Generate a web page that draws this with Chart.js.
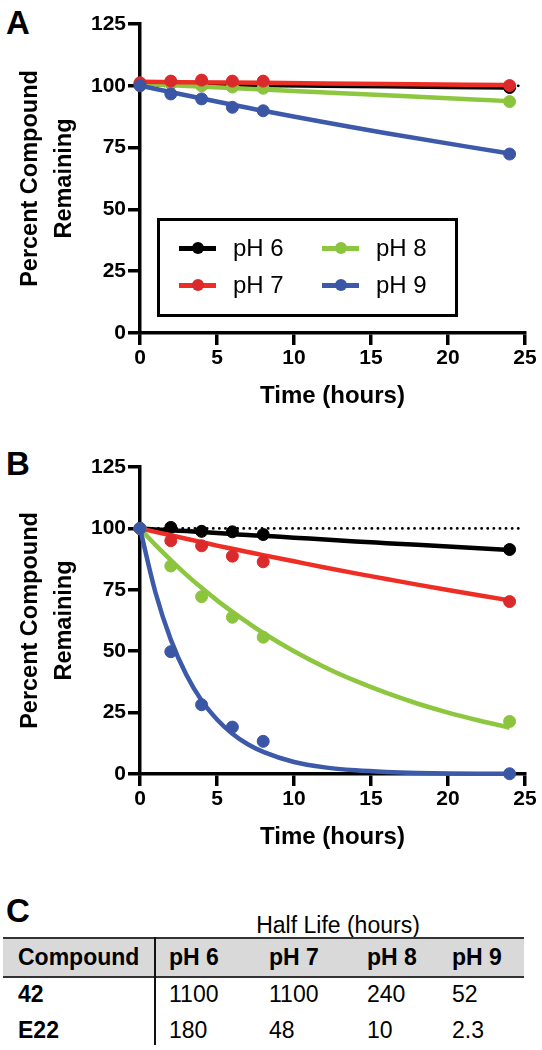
<!DOCTYPE html>
<html>
<head>
<meta charset="utf-8">
<script src="https://cdn.jsdelivr.net/npm/chart.js@4.4.1/dist/chart.umd.min.js"></script>
<style>
  html, body { margin: 0; padding: 0; background: #fff; }
  body { width: 542px; height: 1050px; position: relative; overflow: hidden;
         font-family: "Liberation Sans", Arial, sans-serif; color: #000; }
  .abs { position: absolute; }
  .letter { font-size: 33px; font-weight: bold; line-height: 30px; }
  .txt { font-size: 23px; line-height: 24px; white-space: nowrap; }
  .leg { font-size: 24px; }
  .b { font-weight: bold; }
</style>
</head>
<body>
<div class="abs letter" style="left:6px;top:8px">A</div>
<div class="abs letter" style="left:6px;top:449px">B</div>
<div class="abs letter" style="left:6px;top:896px">C</div>

<canvas id="chartA" class="abs" style="left:0px;top:0px" width="542" height="420"></canvas>
<canvas id="chartB" class="abs" style="left:0px;top:440px" width="542" height="420"></canvas>
<div id="legend"></div>
<div id="table"></div>

<script>
// sampling times (hours)
const timeH = [0, 2, 4, 6, 8, 24];
const seriesNames = ['pH 6', 'pH 7', 'pH 8', 'pH 9'];
const lineColors = ['#000000', '#ee2e24', '#8dc63f', '#3d5aaa'];
const dotColors = ['#000000', '#da2a2c', '#8cc43e', '#3a56a5'];

// panel A: compound 42, measured points
const aPH6 = [100.5, 101, 101, 101, 100.5, 99.3];
const aPH7 = [101.2, 101.9, 102.3, 101.9, 101.9, 100.1];
const aPH8 = [101, 101, 100, 99.5, 99, 93.6];
const aPH9 = [100, 96.7, 94.7, 91.3, 89.9, 72.4];
// panel A fitted curves
const fitTimeA = [0, 8, 16, 24];
const aFit6 = [100.8, 100.3, 99.8, 99.3];
const aFit7 = [101.6, 101.2, 100.7, 100.3];
const aFit8 = [100.8, 98.5, 96.2, 93.8];
const aFit9 = [100, 89.9, 80.8, 72.6];

// panel B: E22, measured points
const bPH6 = [100, 100.4, 98.8, 98.6, 97.5, 91.4];
const bPH7 = [100, 95, 92.9, 88.7, 86.4, 70.2];
const bPH8 = [100, 84.7, 72.2, 63.8, 55.7, 21.4];
const bPH9 = [100, 49.8, 28.2, 19.1, 13.3, 0.1];
// panel B fitted curves
const fitTimeB = [0, 1, 2, 3, 4, 5, 6, 7, 8, 10, 12, 14, 16, 18, 20, 22, 24];
const bFit6 = [100, 99.6, 99.2, 98.9, 98.5, 98.1, 97.7, 97.3, 97.0, 96.2, 95.5, 94.7, 94.0, 93.3, 92.6, 91.9, 91.2];
const bFit7 = [100, 98.6, 97.2, 95.8, 94.4, 93.0, 91.7, 90.4, 89.1, 86.6, 84.1, 81.7, 79.4, 77.1, 74.9, 72.8, 70.7];
const bFit8 = [100, 93.3, 87.1, 81.2, 75.8, 70.7, 66.0, 61.6, 57.4, 50.0, 43.5, 37.9, 33.0, 28.7, 25.0, 21.8, 18.9];
const bFit9 = [100, 74.0, 54.7, 40.5, 29.9, 22.2, 16.4, 12.1, 9.0, 4.9, 2.7, 1.5, 0.8, 0.4, 0.2, 0.1, 0.1];

// dotted 100% reference line
const refX = [0, 24.7];
const refY = [100, 100];

const xTicks = [0, 5, 10, 15, 20, 25];
const yTicks = [0, 25, 50, 75, 100, 125];

// panel C table
const tableTitle = 'Half Life (hours)';
const tableHead = ['Compound', 'pH 6', 'pH 7', 'pH 8', 'pH 9'];
const compounds = ['42', 'E22'];
const halfLife42 = ['1100', '1100', '240', '52'];
const halfLifeE22 = ['180', '48', '10', '2.3'];

Chart.defaults.font.family = '"Liberation Sans", Arial, sans-serif';
Chart.defaults.color = '#000';

function pts(xs, ys) { return xs.map((x, i) => ({ x: x, y: ys[i] })); }

function makePanel(id, points, fits, drawOrder, padTop, xBoxH) {
  const ds = [];
  ds.push({
    data: pts(refX, refY), showLine: true, pointRadius: 0, borderColor: '#000',
    borderWidth: 2.8, borderDash: [0.1, 6], borderCapStyle: 'round', order: 20, clip: false
  });
  for (let i = 0; i < 4; i++) {
    const o = drawOrder[i] * 2;
    ds.push({
      data: pts(fits[0], fits[i + 1]), showLine: true, pointRadius: 0,
      borderColor: lineColors[i], borderWidth: 4.5, cubicInterpolationMode: 'monotone',
      order: o + 1, clip: false
    });
    ds.push({
      data: pts(timeH, points[i]), showLine: false, pointRadius: 6,
      pointBackgroundColor: dotColors[i], pointBorderColor: dotColors[i], pointBorderWidth: 1,
      order: o, clip: false
    });
  }
  return new Chart(document.getElementById(id), {
    type: 'scatter',
    data: { datasets: ds },
    options: {
      responsive: false, animation: false,
      layout: { padding: { left: 0, right: 17, top: padTop, bottom: 0 } },
      plugins: { legend: { display: false }, tooltip: { enabled: false } },
      scales: {
        x: {
          type: 'linear', min: 0, max: 25,
          afterFit: s => { s.height = xBoxH; },
          afterBuildTicks: s => { s.ticks = xTicks.map(v => ({ value: v })); },
          ticks: { font: { size: 21, weight: 'bold' }, padding: 1, maxRotation: 0, autoSkip: false },
          grid: { drawOnChartArea: false, drawTicks: true, tickLength: 12, lineWidth: 3.5, color: '#000' },
          border: { display: true, width: 3.5, color: '#000' },
          title: { display: true, text: 'Time (hours)', font: { size: 24, weight: 'bold', lineHeight: 1.2 },
                   padding: { top: 0, bottom: xBoxH - 87 + 9 } }
        },
        y: {
          min: 0, max: 125,
          afterFit: s => { s.width = 140; },
          afterBuildTicks: s => { s.ticks = yTicks.map(v => ({ value: v })); },
          ticks: { font: { size: 21, weight: 'bold' }, padding: 2, autoSkip: false },
          grid: { drawOnChartArea: false, drawTicks: true, tickLength: 12, lineWidth: 3.5, color: '#000' },
          border: { display: true, width: 3.5, color: '#000' },
          title: { display: true, text: ['Percent Compound', 'Remaining'],
                   font: { size: 23.5, weight: 'bold', lineHeight: 1.42 }, padding: { top: 14, bottom: 0 } }
        }
      }
    }
  });
}

// drawOrder: 0 = on top
makePanel('chartA', [aPH6, aPH7, aPH8, aPH9], [fitTimeA, aFit6, aFit7, aFit8, aFit9], [8, 4, 6, 0], 24, 87);
makePanel('chartB', [bPH6, bPH7, bPH8, bPH9], [fitTimeB, bFit6, bFit7, bFit8, bFit9], [8, 6, 4, 0], 27, 86);

// legend for panel A
const legend = document.getElementById('legend');
let lh = '<div class="abs" style="left:157px;top:218px;width:295px;height:93px;border:3.5px solid #000"></div>';
const legCols = [179, 322], legText = [233, 376], legRows = [248, 285];
seriesNames.forEach((name, i) => {
  const c = Math.floor(i / 2), r = i % 2;
  const x = legCols[c], y = legRows[r];
  lh += `<div class="abs" style="left:${x}px;top:${y - 2.5}px;width:37px;height:5px;background:${lineColors[i]}"></div>`;
  lh += `<div class="abs" style="left:${x + 12.5}px;top:${y - 6}px;width:12px;height:12px;border-radius:50%;background:${dotColors[i]}"></div>`;
  lh += `<div class="abs txt leg" style="left:${legText[c]}px;top:${y - 12}px">${name}</div>`;
});
legend.innerHTML = lh;

// table for panel C
const colX = [18, 169, 269, 367, 452];
const rowY = [994, 1030];
let th = `<div class="abs txt" style="left:338px;top:913px;transform:translateX(-50%)">${tableTitle}</div>`;
th += '<div class="abs" style="left:3px;top:937px;width:521px;height:41px;background:#d9d9d9;border-top:2px solid #333;border-bottom:2px solid #333;box-sizing:border-box"></div>';
th += '<div class="abs" style="left:154px;top:937px;width:2px;height:108px;background:#111"></div>';
tableHead.forEach((h, i) => {
  th += `<div class="abs txt b" style="left:${colX[i]}px;top:945px">${h}</div>`;
});
[halfLife42, halfLifeE22].forEach((row, r) => {
  th += `<div class="abs txt b" style="left:${colX[0]}px;top:${rowY[r] - 12}px">${compounds[r]}</div>`;
  row.forEach((v, i) => {
    th += `<div class="abs txt" style="left:${colX[i + 1]}px;top:${rowY[r] - 12}px">${v}</div>`;
  });
});
document.getElementById('table').innerHTML = th;
</script>
</body>
</html>
